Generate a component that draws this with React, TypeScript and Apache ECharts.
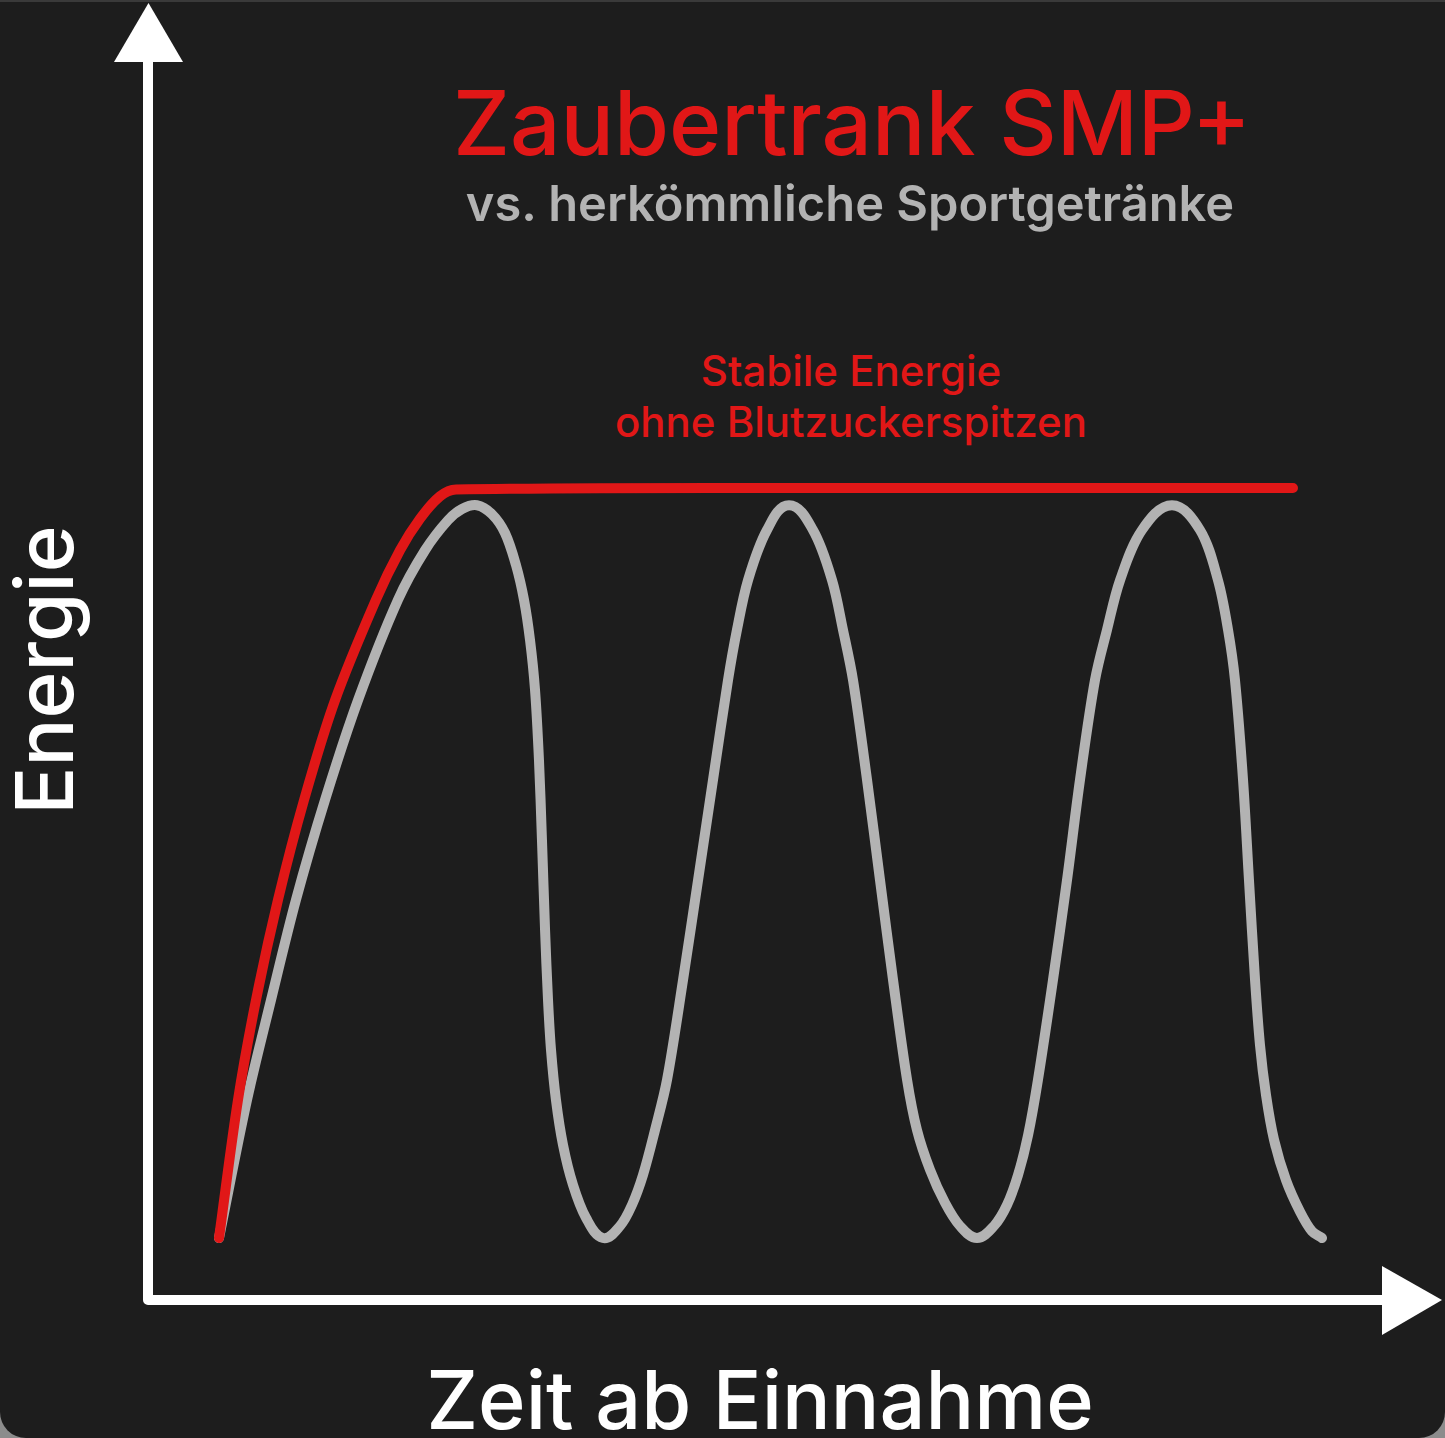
import React, { useEffect, useRef } from "react";
import * as echarts from "echarts";

// Time since intake (0..100) and energy level (0..100)
const greyTime = [
  0, 2.54, 4.71, 6.98, 9.61, 12.6, 16.23, 18.68, 20.76, 22.03, 23.39,
  24.75, 25.93, 26.93, 27.65, 28.2, 28.65, 29.01, 29.28, 29.56, 29.83, 30.1, 30.55,
  31.19, 32.09, 33.27, 34.81,
  36.36, 37.44, 38.44, 39.53, 40.62, 42.07, 43.43, 44.79, 46.15, 46.96, 47.96, 49.68, 51.68,
  53.85, 55.58, 56.57, 57.48, 58.75, 59.93, 61.11, 62.38, 63.28, 64.46, 65.82, 67.18, 68.72,
  70.26, 71.44, 72.44, 73.35, 74.25, 75.61, 76.88, 78.06, 79.42, 80.51, 81.69, 83.68, 86.4,
  88.94, 90.57, 91.48, 92.11, 92.84, 93.38, 93.93, 94.38, 94.92, 95.65, 96.74, 98.01, 99.09, 100,
];
const greyEnergy = [
  0, 18.4, 31.7, 45.1, 58.4, 71.7, 85.1, 91.7, 95.7, 97.2, 97.7,
  96.5, 94.0, 89.7, 85.1, 79.7, 73.1, 63.7, 53.1, 41.1, 31.7, 25.1, 18.4,
  12.4, 7.1, 2.7, 0,
  1.6, 4.4, 8.4, 14.4, 21.1, 34.4, 47.7, 61.1, 74.4, 81.1, 87.7, 94.4, 97.7,
  94.4, 87.7, 81.1, 74.4, 61.1, 47.7, 34.4, 21.1, 14.4, 9.1, 4.7, 1.6, 0,
  1.6, 4.4, 8.4, 13.7, 21.1, 34.4, 47.7, 61.1, 74.4, 81.1, 87.7, 94.4, 97.7,
  94.4, 87.7, 81.1, 74.4, 61.1, 47.7, 34.4, 25.7, 19.1, 13.1, 7.7, 3.5, 0.9, 0,
];
const redTime = [0, 1.72, 3.35, 5.35, 7.71, 10.52, 14.23, 16.41, 18.22, 20.04, 21.49, 61.74, 97.37];
const redEnergy = [0, 18.4, 31.7, 45.1, 58.4, 71.7, 85.1, 91.7, 95.9, 98.9, 99.8, 100, 100];

const titleText = "Zaubertrank SMP+";
const subtitleText = "vs. herkömmliche Sportgetränke";
const noteLines = ["Stabile Energie", "ohne Blutzuckerspitzen"];
const yAxisName = "Energie";
const xAxisName = "Zeit ab Einnahme";

const RED = "#e11717";
const GREY = "#b3b3b3";
const BG = "#1d1d1d";
const FONT = "Inter, 'Noto Sans', sans-serif";

// Smooth path through the data points: tangent direction from neighbours,
// control arm proportional to each segment's own length (no overshoot).
function smoothPath(pts: number[][]): string {
  const n = pts.length;
  const dirs = pts.map((p, i) => {
    const a = pts[Math.max(0, i - 1)];
    const b = pts[Math.min(n - 1, i + 1)];
    const dx = b[0] - a[0];
    const dy = b[1] - a[1];
    const l = Math.hypot(dx, dy) || 1;
    return [dx / l, dy / l];
  });
  const k = 0.33;
  let d = `M${pts[0][0]},${pts[0][1]}`;
  for (let i = 0; i < n - 1; i++) {
    const p1 = pts[i];
    const p2 = pts[i + 1];
    const len = Math.hypot(p2[0] - p1[0], p2[1] - p1[1]);
    const c1x = p1[0] + dirs[i][0] * len * k;
    const c1y = p1[1] + dirs[i][1] * len * k;
    const c2x = p2[0] - dirs[i + 1][0] * len * k;
    const c2y = p2[1] - dirs[i + 1][1] * len * k;
    d += ` C${c1x},${c1y} ${c2x},${c2y} ${p2[0]},${p2[1]}`;
  }
  return d;
}

function curveSeries(times: number[], energies: number[], color: string, z: number) {
  return {
    type: "custom",
    z,
    data: times.map((t, i) => [t, energies[i]]),
    encode: { x: 0, y: 1 },
    renderItem: (params: any, api: any) => {
      if (params.dataIndex !== 0) return null;
      const pts = times.map((t, i) => api.coord([t, energies[i]]));
      return {
        type: "path",
        shape: { pathData: smoothPath(pts) },
        style: { fill: "none", stroke: color, lineWidth: 10, lineCap: "round", lineJoin: "round" },
      };
    },
  };
}

export default function App() {
  const ref = useRef<HTMLDivElement>(null);

  useEffect(() => {
    document.body.style.margin = "0";
    document.body.style.background = "#8c8c8c";
    if (!ref.current) return;
    const chart = echarts.init(ref.current, undefined, { renderer: "svg" });
    const W = 1445;
    const H = 1438;
    chart.setOption({
      animation: false,
      backgroundColor: "#8c8c8c",
      grid: { left: 219, right: 123, top: 488, bottom: 200, containLabel: false, outerBoundsMode: "none" },
      xAxis: { type: "value", min: 0, max: 100, show: false },
      yAxis: { type: "value", min: 0, max: 100, show: false },
      graphic: [
        { type: "rect", z: -10, shape: { x: 0, y: 0, width: W, height: H, r: [0, 0, 26, 26] }, style: { fill: BG } },
        { type: "rect", z: -9, shape: { x: 0, y: 0, width: W, height: 2 }, style: { fill: "#3a3a3a" } },
        {
          type: "polyline",
          shape: { points: [[148, 62], [148, 1300], [1384, 1300]] },
          style: { stroke: "#ffffff", lineWidth: 10, fill: null, lineJoin: "round" },
        },
        { type: "polygon", shape: { points: [[148.5, 3], [114, 62], [183, 62]] }, style: { fill: "#ffffff" } },
        { type: "polygon", shape: { points: [[1382, 1266], [1382, 1335], [1442, 1300]] }, style: { fill: "#ffffff" } },
        {
          type: "text",
          style: { text: titleText, x: 852, y: 122, align: "center", verticalAlign: "middle", fill: RED, font: `500 89px ${FONT}` },
        },
        {
          type: "text",
          style: { text: subtitleText, x: 850, y: 203, align: "center", verticalAlign: "middle", fill: GREY, font: `600 48.8px ${FONT}` },
        },
        {
          type: "text",
          style: { text: noteLines[0], x: 851, y: 370, align: "center", verticalAlign: "middle", fill: RED, font: `500 42px ${FONT}` },
        },
        {
          type: "text",
          style: { text: noteLines[1], x: 851, y: 421, align: "center", verticalAlign: "middle", fill: RED, font: `500 42px ${FONT}` },
        },
        {
          type: "text",
          x: 43,
          y: 670,
          rotation: Math.PI / 2,
          style: { text: yAxisName, x: 0, y: 0, align: "center", verticalAlign: "middle", fill: "#ffffff", font: `500 80px ${FONT}` },
        },
        {
          type: "text",
          style: { text: xAxisName, x: 760, y: 1400, align: "center", verticalAlign: "middle", fill: "#ffffff", font: `500 81px ${FONT}` },
        },
      ],
      series: [curveSeries(greyTime, greyEnergy, GREY, 2), curveSeries(redTime, redEnergy, RED, 3)],
    });
    return () => chart.dispose();
  }, []);

  return <div ref={ref} style={{ width: 1445, height: 1438 }} />;
}
